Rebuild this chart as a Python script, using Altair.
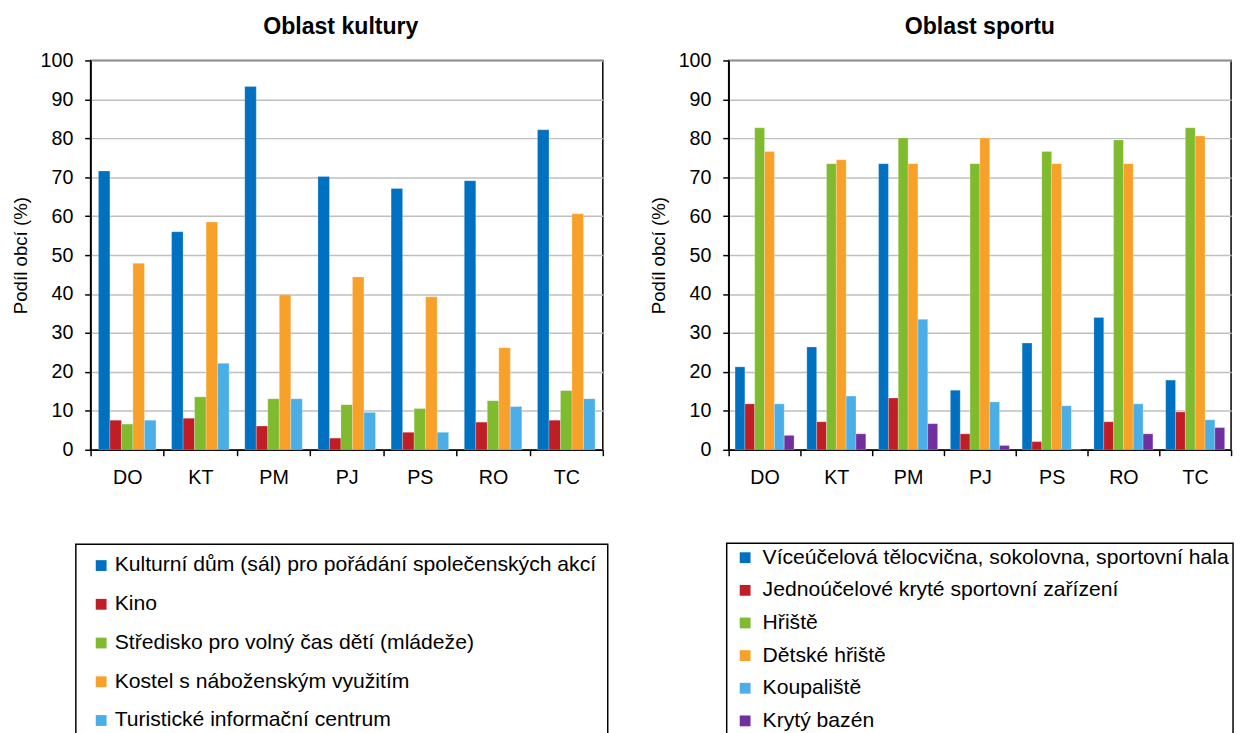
import altair as alt
import pandas as pd

categories = ["DO", "KT", "PM", "PJ", "PS", "RO", "TC"]

kultura_series = [
    "Kulturní dům (sál) pro pořádání společenských akcí",
    "Kino",
    "Středisko pro volný čas dětí (mládeže)",
    "Kostel s náboženským využitím",
    "Turistické informační centrum",
]
kultura_dum = [71.6, 56.0, 93.3, 70.2, 67.1, 69.1, 82.2]
kultura_kino = [7.6, 8.1, 6.1, 3.0, 4.5, 7.1, 7.6]
kultura_stredisko = [6.6, 13.6, 13.1, 11.6, 10.6, 12.6, 15.2]
kultura_kostel = [47.9, 58.5, 39.8, 44.4, 39.3, 26.2, 60.6]
kultura_tic = [7.6, 22.2, 13.1, 9.6, 4.5, 11.1, 13.1]

sport_series = [
    "Víceúčelová tělocvična, sokolovna, sportovní hala",
    "Jednoúčelové kryté sportovní zařízení",
    "Hřiště",
    "Dětské hřiště",
    "Koupaliště",
    "Krytý bazén",
]
sport_viceucelova = [21.3, 26.4, 73.5, 15.3, 27.4, 34.0, 17.9]
sport_jednoucelove = [11.8, 7.2, 13.3, 4.1, 2.1, 7.2, 9.7]
sport_hriste = [82.7, 73.5, 80.1, 73.5, 76.6, 79.6, 82.7]
sport_detske = [76.6, 74.5, 73.5, 80.1, 73.5, 73.5, 80.6]
sport_koupaliste = [11.8, 13.8, 33.5, 12.3, 11.3, 11.8, 7.7]
sport_bazen = [3.7, 4.1, 6.7, 1.1, 0.0, 4.1, 5.7]

colors = ["#0070C0", "#C01E26", "#80BA2E", "#F8A12A", "#4BAEE6", "#7030A0"]

FONT = "Liberation Sans"


def panel(title, title_dx, series, cols, width, off_pad,
          lx, ly, lpad, lsymoff, lrowpad, loffset):
    rows = []
    for s, vals in zip(series, cols):
        for c, v in zip(categories, vals):
            rows.append({"kategorie": c, "rada": s, "hodnota": v})
    df = pd.DataFrame(rows)
    return (
        alt.Chart(df, title=alt.Title(title, offset=12, dx=title_dx))
        .mark_bar(stroke="white", strokeWidth=0.4, strokeOpacity=0.6)
        .encode(
            x=alt.X(
                "kategorie:N",
                sort=categories,
                scale=alt.Scale(paddingInner=0, paddingOuter=0),
                axis=alt.Axis(
                    title=None,
                    labelAngle=0,
                    tickBand="extent",
                    tickSize=6,
                    labelPadding=12,
                    grid=False,
                ),
            ),
            xOffset=alt.XOffset(
                "rada:N",
                sort=series,
                scale=alt.Scale(paddingInner=0, paddingOuter=off_pad),
            ),
            y=alt.Y(
                "hodnota:Q",
                scale=alt.Scale(domain=[0, 100], nice=False),
                axis=alt.Axis(
                    title="Podíl obcí (%)",
                    values=list(range(0, 101, 10)),
                    format="d",
                    tickSize=6,
                    labelPadding=12,
                    titlePadding=10,
                ),
            ),
            color=alt.Color(
                "rada:N",
                sort=series,
                scale=alt.Scale(domain=series, range=colors[: len(series)]),
                legend=alt.Legend(
                    title=None,
                    orient="none",
                    direction="vertical",
                    legendX=lx,
                    legendY=ly,
                    strokeColor="black",
                    padding=lpad,
                    symbolOffset=lsymoff,
                    rowPadding=lrowpad,
                    symbolType="square",
                    symbolSize=121,
                    symbolStrokeWidth=0,
                    symbolOpacity=1,
                    labelFont=FONT,
                    labelFontSize=21.5,
                    labelColor="black",
                    labelLimit=800,
                    labelOffset=loffset,
                ),
            ),
        )
        .properties(width=width, height=396)
    )


left = panel(
    "Oblast kultury", -6,
    kultura_series,
    [kultura_dum, kultura_kino, kultura_stredisko, kultura_kostel, kultura_tic],
    521, 0.68,
    -15, 492, 11, 4, 16.4, 3,
)
right = panel(
    "Oblast sportu", 0,
    sport_series,
    [sport_viceucelova, sport_jednoucelove, sport_hriste, sport_detske,
     sport_koupaliste, sport_bazen],
    511, 0.65,
    -2, 491, 4, 4, 10.2, 7,
)

chart = (
    alt.hconcat(left, right, spacing=39)
    .resolve_scale(color="independent", xOffset="independent", x="independent", y="independent")
    .properties(padding={"left": 2, "top": 0, "right": 0, "bottom": 0})
    .configure_view(stroke="black", strokeWidth=1.5)
    .configure_axis(
        labelFont=FONT,
        labelFontSize=20,
        labelColor="black",
        titleFont=FONT,
        titleFontSize=19,
        titleFontWeight="normal",
        titleColor="black",
        domainColor="black",
        domainWidth=1.5,
        tickColor="black",
        tickWidth=1.5,
    )
    .configure_axisY(gridColor="#BFBFBF", gridWidth=1.5)
    .configure_title(font=FONT, fontSize=23.5, fontWeight="bold", color="black", anchor="middle")
    .configure_legend(strokeWidth=1.5)
)

chart.save("out.html", embed_options={"renderer": "svg", "actions": False})
